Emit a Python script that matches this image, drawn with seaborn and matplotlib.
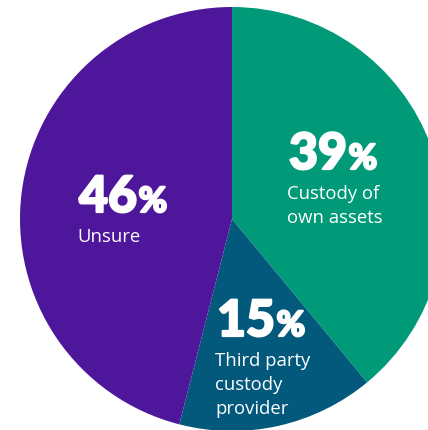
import matplotlib
matplotlib.use("Agg")
import matplotlib.pyplot as plt
import matplotlib.patheffects as pe
import seaborn as sns

# ========== data ==========
categories = ["Custody of\nown assets", "Third party\ncustody\nprovider", "Unsure"]
shares = [39, 15, 46]
slice_colors = ["#009a78", "#03597c", "#4e169b"]

sns.set_theme(style="white")
plt.rcParams['font.family'] = ['Open Sans', 'DejaVu Sans']

W, H = 428, 431
fig = plt.figure(figsize=(W / 100, H / 100), dpi=100)
ax = fig.add_axes([0, 0, 1, 1])

# pie centre / radius in pixels (circle runs off the right and bottom edges)
cx, cy, r = 232, 220, 212

ax.pie(shares, colors=sns.color_palette(slice_colors), startangle=90,
       counterclock=False, radius=1, wedgeprops=dict(linewidth=0))
ax.set_xlim(-cx / r, (W - cx) / r)
ax.set_ylim(-(H - cy) / r, cy / r)
ax.set_aspect('equal', adjustable='datalim')
ax.axis('off')

# label anchor points (left x, baseline of the big number), in pixels
anchors = [(289, 170), (217, 337), (79, 213)]
big_font = ['Lato', 'DejaVu Sans']
heavy = [pe.withStroke(linewidth=1.6, foreground="white")]

for (px, py), pct, lab in zip(anchors, shares, categories):
    t = fig.text(px / W, 1 - py / H, f"{pct}", color="white", fontsize=36,
                 fontweight="black", family=big_font, va='baseline', ha='left',
                 path_effects=heavy)
    fig.canvas.draw()
    bb = t.get_window_extent()
    fig.text((bb.x1 + 1.5) / W, 1 - py / H, "%", color="white", fontsize=25,
             fontweight="black", family=big_font, va='baseline', ha='left',
             path_effects=heavy)
    for i, line in enumerate(lab.split("\n")):
        fig.text((px - 2) / W, 1 - (py + 29 + i * 24) / H, line, color="white",
                 fontsize=13.3, va='baseline', ha='left')

fig.savefig("out.png", dpi=100)
